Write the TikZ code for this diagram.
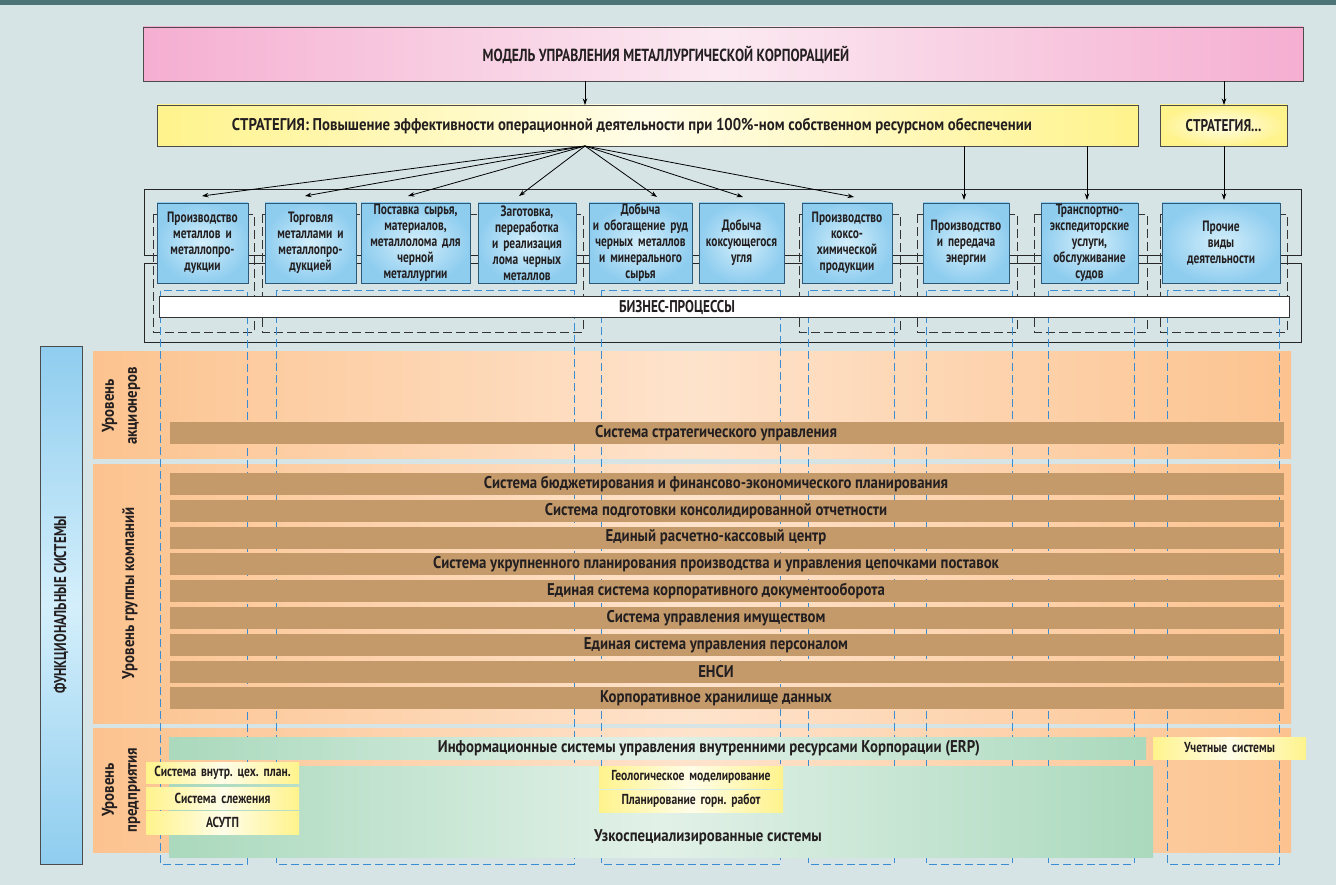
\documentclass[tikz,border=0pt]{standalone}
\usepackage{fontspec}
\setmainfont{PT Sans}[FakeStretch=0.76]
\newfontfamily\capsf{PT Sans}[FakeStretch=0.78]
\newfontfamily\lowf{PT Sans}[FakeStretch=0.87]
\newfontfamily\smallff{PT Sans}[FakeStretch=0.8]
\usetikzlibrary{arrows.meta}
\definecolor{bgc}{HTML}{D6E4E6}
\definecolor{topc}{HTML}{4C7375}
\definecolor{pinkc}{HTML}{F5AED1}
\definecolor{pinkl}{HTML}{FBE9F1}
\definecolor{yelc}{HTML}{FFF38C}
\definecolor{yell}{HTML}{FFFDE8}
\definecolor{bluec}{HTML}{8FCDEF}
\definecolor{bluel}{HTML}{D4EFFB}
\definecolor{bordc}{HTML}{2E5877}
\definecolor{oranc}{HTML}{FCC38F}
\definecolor{oranl}{HTML}{FEE3CC}
\definecolor{brownc}{HTML}{C49A6B}
\definecolor{greenc}{HTML}{AAD9BD}
\definecolor{greenl}{HTML}{E2F1E8}
\definecolor{bdashc}{HTML}{3A8DD2}
\definecolor{txtc}{HTML}{231F20}
\newcommand\putbox[7]{%
 \pgfmathsetmacro\pbw{#4-#2}\pgfmathsetmacro\pbh{#5-#3}%
 \pgfmathsetmacro\pbx{(#2+#4)/2}\pgfmathsetmacro\pby{(#3+#5)/2}%
 \pgfmathsetmacro\pbt{#4-#2-4}%
 \node[#6, minimum width=\pbw pt, minimum height=\pbh pt, text width=\pbt pt] (#1) at (\pbx,\pby) {#7};}
\frenchspacing
\begin{document}
\begin{tikzpicture}[x=1pt,y=-1pt,
  every node/.style={inner sep=0pt, outer sep=0pt, text=txtc, align=center},
  big/.style={font=\lowf\bfseries\fontsize{17}{19}\selectfont},
  caps/.style={font=\capsf\bfseries\fontsize{17}{19}\selectfont},
  boxf/.style={font=\bfseries\fontsize{15}{16}\selectfont},
  smallf/.style={font=\smallff\bfseries\fontsize{14.5}{16}\selectfont},
  modelbox/.style={draw=black!70, line width=0.8pt, left color=pinkc, right color=pinkc, middle color=pinkl},
  yelbox/.style={draw=black!70, line width=0.8pt, left color=yelc, right color=yelc, middle color=yell},
  yelflat/.style={left color=yelc, right color=yelc, middle color=yell},
  bizbox/.style={draw=bordc, line width=0.8pt, shading=radial, inner color=bluel, outer color=bluec, boxf},
  arr/.style={draw=black, line width=0.8pt, -{Stealth[length=6.5pt,width=4.5pt]}},
  frame/.style={draw=black!85, line width=0.8pt},
  kdash/.style={draw=black!80, line width=0.8pt, dash pattern=on 9pt off 4pt},
  bdash/.style={draw=bdashc, line width=1pt, dash pattern=on 8pt off 4pt},
  panel/.style={left color=oranc, right color=oranc, middle color=oranl},
  brownbar/.style={fill=brownc},
  greenbox/.style={left color=greenc, right color=greenc, middle color=greenl},
]
\useasboundingbox (0,0) rectangle (1336,885);
\fill[bgc] (0,0) rectangle (1336,885);
\fill[topc] (0,0) rectangle (1336,5);

% top level
\putbox{model}{143}{27}{1303}{81}{modelbox}{}
\node[caps, font=\capsf\bfseries\fontsize{17.5}{19}\selectfont] (modeltxt) at (666,55) {МОДЕЛЬ УПРАВЛЕНИЯ МЕТАЛЛУРГИЧЕСКОЙ КОРПОРАЦИЕЙ};
\putbox{strat}{157}{105}{1138}{146}{yelbox}{}
\node[big] (strattxt) at (632,126) {СТРАТЕГИЯ: Повышение эффективности операционной деятельности при 100\%-ном собственном ресурсном обеспечении};
\putbox{strat2}{1160}{105}{1287}{146}{draw=black!70, line width=0.8pt, shading=radial, inner color=yell, outer color=yelc, caps}{СТРАТЕГИЯ...}

% business frames
\draw[frame] (144,189) rectangle (1301,255);
\draw[frame] (144,263) rectangle (1301,342);
\draw[kdash] (153,214) rectangle (254,332);
\draw[kdash] (262,214) rectangle (583,332);
\draw[kdash] (799,214) rectangle (900,332);
\draw[kdash] (917,214) rectangle (1017,332);
\draw[kdash] (1034,214) rectangle (1147,332);
\draw[kdash] (1160,214) rectangle (1287,332);

% arrows
\coordinate (fan) at (585,146);
\coordinate (t1) at (202,196);
\coordinate (t2) at (305,196);
\coordinate (t3) at (408,196);
\coordinate (t4) at (519,196);
\coordinate (t5) at (657,197);
\coordinate (t6) at (743,197);
\coordinate (t7) at (854,197);
\coordinate (t8) at (964,200);
\coordinate (t9) at (1087,200);
\coordinate (t10) at (1224,200);
\draw[arr] (model.south -| fan) -- (strat.north -| fan);
\draw[arr] (model.south -| t10) -- (strat2.north -| t10);
\foreach \t in {t1,t2,t3,t4,t5,t6,t7} \draw[arr] (fan) -- (\t);
\draw[arr] (strat.south -| t8) -- (t8);
\draw[arr] (strat.south -| t9) -- (t9);
\draw[arr] (strat2.south -| t10) -- (t10);

% orange panels
\fill[panel] (93,351) rectangle (1291,458);
\fill[panel] (93,464) rectangle (1291,723);
\fill[panel] (93,728) rectangle (1291,852);

% blue dashed columns
\draw[bdash] (160,291) rectangle (247,864);
\draw[bdash] (276,291) rectangle (574,864);
\draw[bdash] (601,291) rectangle (780,864);
\draw[bdash] (808,291) rectangle (894,864);
\draw[bdash] (926,291) rectangle (1012,864);
\draw[bdash] (1048,291) rectangle (1134,864);
\draw[bdash] (1167,291) rectangle (1279,864);

% business boxes
\putbox{b1}{157}{203}{248}{283}{bizbox}{Производство\\металлов и\\металлопро-\\дукции}
\putbox{b2}{265}{203}{356}{283}{bizbox}{Торговля\\металлами и\\металлопро-\\дукцией}
\putbox{b3}{361}{203}{470}{283}{bizbox}{Поставка сырья,\\материалов,\\металлолома для\\черной\\металлургии}
\putbox{b4}{478}{203}{576}{283}{bizbox}{Заготовка,\\переработка\\и реализация\\лома черных\\металлов}
\putbox{b5}{589}{203}{692}{283}{bizbox}{Добыча\\и обогащение руд\\черных металлов\\и минерального\\сырья}
\putbox{b6}{699}{203}{784}{283}{bizbox}{Добыча\\коксующегося\\угля}
\putbox{b7}{802}{203}{892}{283}{bizbox}{Производство\\коксо-\\химической\\продукции}
\putbox{b8}{923}{203}{1009}{283}{bizbox}{Производство\\и передача\\энергии}
\putbox{b9}{1041}{203}{1138}{283}{bizbox}{Транспортно-\\экспедиторские\\услуги,\\обслуживание\\судов}
\putbox{b10}{1162}{203}{1280}{283}{bizbox}{Прочие\\виды\\деятельности}

\putbox{bp}{159}{296}{1289}{317}{draw=black!80, line width=0.8pt, fill=white}{}
\node[caps] (bptxt) at (677,307) {БИЗНЕС-ПРОЦЕССЫ};

% functional systems column
\putbox{func}{40}{346}{82}{864}{draw=black!70, line width=0.8pt, top color=bluec, bottom color=bluec, middle color=bluel}{}
\node[caps, rotate=90, font=\bfseries\fontsize{17}{19}\selectfont] (functxt) at (61,605) {ФУНКЦИОНАЛЬНЫЕ СИСТЕМЫ};

\node[big, rotate=90, font=\lowf\bfseries\fontsize{17}{23}\selectfont] (lv1) at (121,406) {Уровень\\акционеров};
\node[big, rotate=90] (lv2) at (130,593) {Уровень группы компаний};
\node[big, rotate=90, font=\lowf\bfseries\fontsize{17}{23}\selectfont] (lv3) at (121,790) {Уровень\\предприятия};

% brown bars
\putbox{s0}{170}{422}{1284}{444}{brownbar}{}
\node[big] (s0t) at (716,433) {Система стратегического управления};
\foreach \i/\txt in {0/{Система бюджетирования и финансово-экономического планирования},
  1/{Система подготовки консолидированной отчетности},
  2/{Единый расчетно-кассовый центр},
  3/{Система укрупненного планирования производства и управления цепочками поставок},
  4/{Единая система корпоративного документооборота},
  5/{Система управления имуществом},
  6/{Единая система управления персоналом},
  7/{ЕНСИ},
  8/{Корпоративное хранилище данных}}{
  \pgfmathsetmacro\yt{473+26.8*\i}
  \pgfmathsetmacro\yb{\yt+22}
  \putbox{g\i}{170}{\yt}{1284}{\yb}{brownbar}{}
  \node[big] (gt\i) at (716,{\yt+11}) {\txt};
}

% enterprise level
\putbox{erp}{169}{737}{1146}{759}{greenbox}{}
\node[big] (erpt) at (709,748) {Информационные системы управления внутренними ресурсами Корпорации (ERP)};
\putbox{narrow}{169}{766}{1153}{857}{greenbox}{}
\node[big] (narrowt) at (708,837) {Узкоспециализированные системы};
\putbox{acc}{1153}{737}{1306}{759}{yelflat, smallf}{Учетные системы}
\putbox{y1}{146}{762}{299}{783}{yelflat, smallf}{Система внутр. цех. план.}
\putbox{y2}{146}{787}{299}{809}{yelflat, smallf}{Система слежения}
\putbox{y3}{146}{811}{299}{834}{yelflat, smallf}{АСУТП}
\putbox{geo}{599}{766}{783}{788}{yelflat, smallf}{Геологическое моделирование}
\putbox{plan}{599}{790}{783}{812}{yelflat, smallf}{Планирование горн. работ}
\end{tikzpicture}
\end{document}
